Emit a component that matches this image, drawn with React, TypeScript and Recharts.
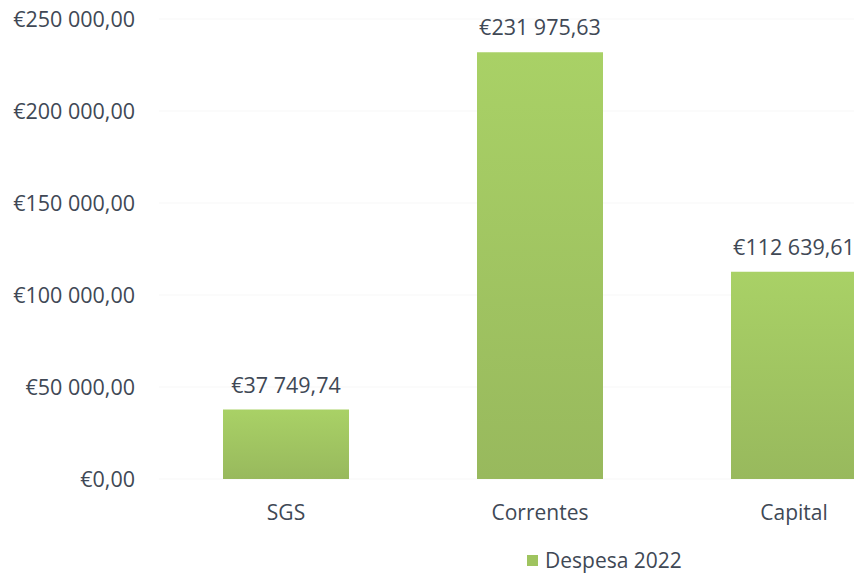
import { BarChart, Bar, XAxis, YAxis, CartesianGrid, Legend, LabelList } from "recharts";

const categories = ["SGS", "Correntes", "Capital"];
const despesa2022 = [37749.74, 231975.63, 112639.61];
const yTicks = [0, 50000, 100000, 150000, 200000, 250000];

const data = categories.map((name, i) => ({ name, despesa: despesa2022[i] }));

const FONT = "'Open Sans', sans-serif";
const TEXT = "#404855";

// €231 975,63 style
const formatEuro = (v: number) => {
  const [int, dec] = Number(v).toFixed(2).split(".");
  return `€${int.replace(/\B(?=(\d{3})+(?!\d))/g, " ")},${dec}`;
};

const LegendContent = () => (
  <div
    style={{
      display: "flex",
      alignItems: "center",
      gap: 7,
      height: 24,
      fontFamily: FONT,
      fontSize: 21,
      color: TEXT,
      whiteSpace: "nowrap",
    }}
  >
    <span style={{ display: "inline-block", width: 11, height: 11, background: "#9fc45f" }} />
    Despesa 2022
  </div>
);

export default function App() {
  return (
    <div
      style={{
        position: "fixed",
        left: 0,
        top: 0,
        width: 854,
        height: 574,
        overflow: "hidden",
        background: "#fff",
      }}
    >
      <BarChart
        width={921}
        height={574}
        data={data}
        margin={{ top: 19, right: 0, left: 0, bottom: 21 }}
        barCategoryGap={64}
      >
        <defs>
          <linearGradient id="greenFill" x1="0" y1="0" x2="0" y2="1">
            <stop offset="0%" stopColor="#a9d166" />
            <stop offset="100%" stopColor="#98b95d" />
          </linearGradient>
        </defs>
        <CartesianGrid vertical={false} stroke="#f7f7f7" />
        <XAxis
          dataKey="name"
          axisLine={false}
          tickLine={false}
          tickSize={0}
          tickMargin={26}
          height={50}
          tick={{ fill: TEXT, fontSize: 21, fontFamily: FONT }}
        />
        <YAxis
          domain={[0, 250000]}
          ticks={yTicks}
          width={159}
          axisLine={false}
          tickLine={false}
          tickSize={0}
          tickMargin={24}
          tickFormatter={formatEuro}
          tick={{ fill: TEXT, fontSize: 21.5, fontFamily: FONT }}
        />
        <Legend
          verticalAlign="bottom"
          content={<LegendContent />}
          wrapperStyle={{ left: 527, top: 548, width: 200, height: 24 }}
        />
        <Bar dataKey="despesa" name="Despesa 2022" fill="url(#greenFill)" isAnimationActive={false}>
          <LabelList
            dataKey="despesa"
            position="top"
            offset={17}
            formatter={(v: number) => formatEuro(v)}
            style={{ fill: TEXT, fontSize: 21.5, fontFamily: FONT }}
          />
        </Bar>
      </BarChart>
    </div>
  );
}
